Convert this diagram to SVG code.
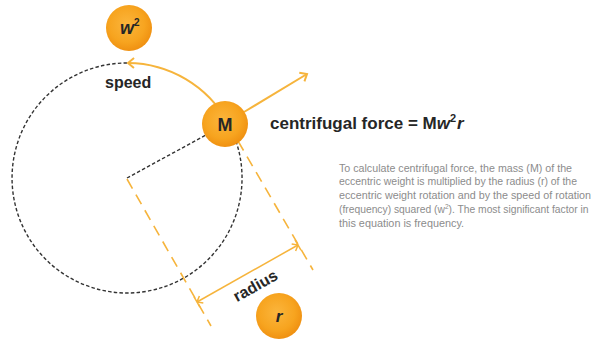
<svg xmlns="http://www.w3.org/2000/svg" width="597" height="339" viewBox="0 0 597 339">
<style>
.dash{fill:none;stroke:#333333;stroke-width:1.4;stroke-dasharray:3.5 2.2}
.ydash{fill:none;stroke:#f6b43c;stroke-width:1.6;stroke-dasharray:11 7}
.yline{fill:none;stroke:#f6b43c;stroke-width:2}
.thin{fill:none;stroke:#f6b43c;stroke-width:1.5}
.lbl{font-family:"Liberation Sans",Arial,sans-serif;font-weight:bold;fill:#262626}
.ball{fill:url(#og)}
.para{font-family:"Liberation Sans",Arial,sans-serif;font-size:11px;fill:#8c8c8c}
</style>
<defs>
<radialGradient id="og" cx="0.45" cy="0.42" r="0.6">
<stop offset="0" stop-color="#fbb53c"/>
<stop offset="0.65" stop-color="#f7a41f"/>
<stop offset="1" stop-color="#ef8f10"/>
</radialGradient>
<marker id="arr" markerUnits="userSpaceOnUse" markerWidth="14" markerHeight="14" refX="9" refY="7" orient="auto" viewBox="0 0 14 14">
<path d="M3,2 L9,7 L3,12" fill="none" stroke="#f6b43c" stroke-width="2"/>
</marker>
<marker id="bar" markerUnits="userSpaceOnUse" markerWidth="14" markerHeight="16" refX="10" refY="8" orient="auto-start-reverse" viewBox="0 0 14 16">
<path d="M5,4 L10,8 L5,12 M10,2 L10,14" fill="none" stroke="#f6b43c" stroke-width="1.5"/>
</marker>
</defs>

<g id="connectors">
<path id="orbit" class="dash" d="M127,63 A115,115 0 1 0 227.6,122.2"/>
<path id="radius-line" class="dash" d="M127,178 L206,135"/>
<path id="guide1" class="ydash" d="M127,179 L211,326"/>
<path id="guide2" class="ydash" d="M238,141 L313,270"/>
<path id="speed-arrow" class="yline" d="M227.6,122.2 A115,115 0 0 0 128,63" marker-end="url(#arr)"/>
<path id="force-arrow" class="yline" d="M244,112 L307,74" marker-end="url(#arr)"/>
<path id="radius-arrow" class="thin" d="M197,302 L298,245" marker-start="url(#bar)" marker-end="url(#bar)"/>
</g>

<g id="node-w2">
<circle class="ball" cx="129" cy="28" r="23"/>
<text class="lbl" x="120" y="34" font-size="18" font-style="italic">w<tspan font-size="10" dy="-8" font-style="normal">2</tspan></text>
</g>

<g id="node-M">
<circle class="ball" cx="225" cy="124" r="23"/>
<text class="lbl" x="225" y="130.5" font-size="18" text-anchor="middle">M</text>
</g>

<g id="node-r">
<circle class="ball" cx="279" cy="316" r="23"/>
<text class="lbl" x="279" y="322" font-size="17" font-style="italic" text-anchor="middle">r</text>
</g>

<g id="labels">
<text class="lbl" x="105" y="88" font-size="16">speed</text>
<text class="lbl" x="258" y="290.5" font-size="16" text-anchor="middle" transform="rotate(-29.5 258 290.5)">radius</text>
<text class="lbl" x="270" y="129" font-size="17">centrifugal force = M<tspan font-style="italic">w</tspan><tspan font-size="11" dy="-7">2</tspan><tspan font-style="italic" dy="7" dx="1">r</tspan></text>
</g>

<g id="description" class="para">
<text x="339" y="171.5" textLength="233" lengthAdjust="spacingAndGlyphs">To calculate centrifugal force, the mass (M) of the</text>
<text x="339" y="185.25" textLength="238" lengthAdjust="spacingAndGlyphs">eccentric weight is multiplied by the radius (r) of the</text>
<text x="339" y="199" textLength="252" lengthAdjust="spacingAndGlyphs">eccentric weight rotation and by the speed of rotation</text>
<text x="339" y="212.75" font-size="10.3">(frequency) squared (w<tspan font-size="6.5" dy="-4">2</tspan><tspan dy="4">). The most significant factor in</tspan></text>
<text x="339" y="226.5" textLength="125" lengthAdjust="spacingAndGlyphs">this equation is frequency.</text>
</g>
</svg>
